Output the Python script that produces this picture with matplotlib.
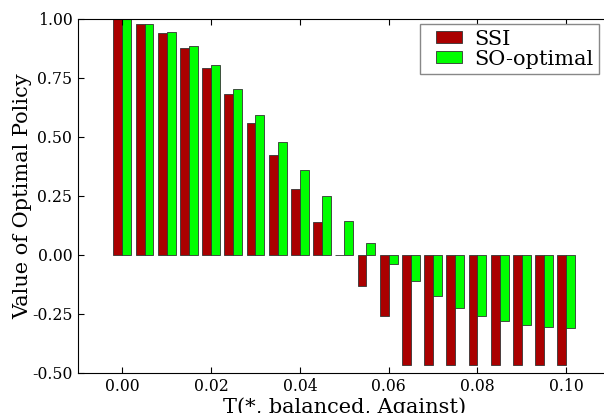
import numpy as np
import matplotlib
matplotlib.use('Agg')
import matplotlib.pyplot as plt
from matplotlib.patches import Patch
from matplotlib.legend_handler import HandlerPatch

# T(*, balanced, Against) values
t_values = [0.000, 0.005, 0.010, 0.015, 0.020, 0.025, 0.030, 0.035, 0.040, 0.045, 0.050,
            0.055, 0.060, 0.065, 0.070, 0.075, 0.080, 0.085, 0.090, 0.095, 0.100]

ssi = [1.0, 0.979, 0.939, 0.876, 0.791, 0.682, 0.558, 0.424, 0.281, 0.138, 0.0,
       -0.133, -0.260, -0.466, -0.466, -0.466, -0.466, -0.466, -0.466, -0.466, -0.466]

so_optimal = [1.0, 0.979, 0.944, 0.884, 0.804, 0.705, 0.593, 0.477, 0.361, 0.249, 0.144,
              0.049, -0.037, -0.110, -0.175, -0.226, -0.260, -0.282, -0.295, -0.305, -0.309]

series_labels = ['SSI', 'SO-optimal']
y_ticks = [-0.50, -0.25, 0.00, 0.25, 0.50, 0.75, 1.00]
x_ticks = [0.00, 0.02, 0.04, 0.06, 0.08, 0.10]

plt.rcParams['font.family'] = 'DejaVu Serif'

fig = plt.figure(figsize=(6.04, 4.13), dpi=100)
ax = fig.add_axes([0.129, 0.097, 0.882, 0.857])

width = 0.002
x = np.array(t_values)
colors = ['#aa0000', '#00ff00']
ax.bar(x - width, ssi, width, align='edge', color=colors[0],
       edgecolor='#333333', linewidth=0.6)
ax.bar(x, so_optimal, width, align='edge', color=colors[1],
       edgecolor='#333333', linewidth=0.6)

ax.set_xlim(-0.01, 0.11)
ax.set_ylim(-0.5, 1.0)
ax.set_xticks(x_ticks)
ax.set_xticklabels([f'{v:.2f}' for v in x_ticks])
ax.set_yticks(y_ticks)
ax.set_yticklabels([f'{v:.2f}' for v in y_ticks])
ax.tick_params(direction='in', top=True, right=True, labelsize=11.3, length=4, pad=4)

ax.set_xlabel('T(*, balanced, Against)', fontsize=15, labelpad=1)
ax.set_ylabel('Value of Optimal Policy', fontsize=15, labelpad=0)

# legend proxies, handle shifted right a bit like the old-style legend
handles = [Patch(facecolor=c, edgecolor='#333333', linewidth=0.6) for c in colors]
leg = ax.legend(handles, series_labels, loc='upper right',
                bbox_to_anchor=(599 / 604, 1 - 24.3 / 413), bbox_transform=fig.transFigure,
                fontsize=15, fancybox=False, framealpha=1,
                handlelength=1.81, handleheight=0.5, handletextpad=0.58,
                borderpad=0.25, labelspacing=0.05, borderaxespad=0,
                handler_map={Patch: HandlerPatch(xpad=0.52)})
leg.get_frame().set_edgecolor('#888888')

fig.savefig('out.png', dpi=100)
